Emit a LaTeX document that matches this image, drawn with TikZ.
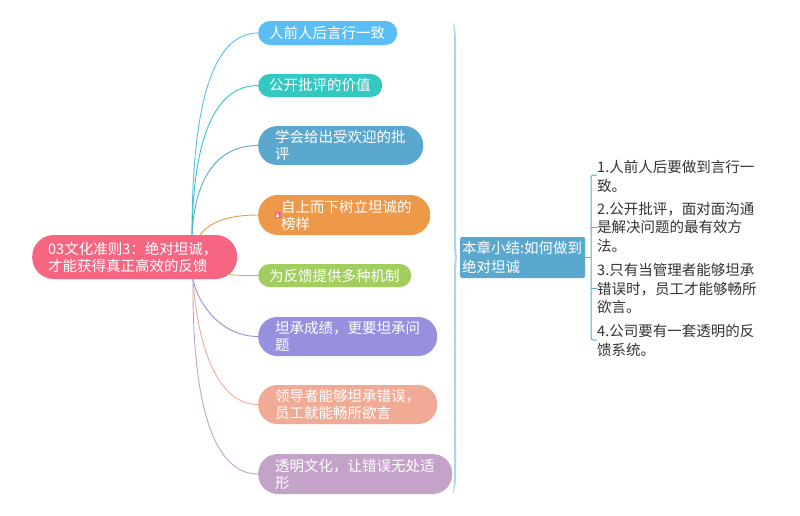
\documentclass[tikz,border=0pt]{standalone}
\usepackage{fontspec}
\setmainfont{Noto Sans CJK SC}
\definecolor{cRoot}{HTML}{F66682}
\definecolor{cA}{HTML}{5ABEF5}
\definecolor{cB}{HTML}{33C9C2}
\definecolor{cC}{HTML}{5BA8CF}
\definecolor{cD}{HTML}{EE9849}
\definecolor{cE}{HTML}{A1CE5F}
\definecolor{cF}{HTML}{9690DE}
\definecolor{cG}{HTML}{F0AA95}
\definecolor{cH}{HTML}{C3A3C8}
\definecolor{cBrace}{HTML}{A9D4EA}
\definecolor{cTxt}{HTML}{333333}
\tikzset{
  x=1pt,y=-1pt,
  pill/.style n args={4}{anchor=west,fill=#4,text=white,inner ysep=0pt,inner xsep=#3,
    minimum width=#1,minimum height=#2,text width=#1-2*#3,align=left,
    rounded corners=0.49*#2,
    font=\fontsize{14.5}{17}\selectfont},
  link/.style={line width=0.9pt},
  note/.style={anchor=north west,inner sep=0pt,text=cTxt,text width=165pt,align=left,
    font=\fontsize{14.5}{18.6}\selectfont},
  bracket/.style={draw=cC,line width=1pt}
}
\begin{document}
\begin{tikzpicture}
\useasboundingbox (0,0) rectangle (800,515);
\fill[white] (0,0) rectangle (800,515);
\node[pill={139pt}{24pt}{11pt}{cA}] (n1) at (258,33) {人前人后言行一致};
\node[pill={124pt}{23pt}{11pt}{cB}] (n2) at (258,85.5) {公开批评的价值};
\node[pill={165pt}{39pt}{17pt}{cC}] (n3) at (258,145.5) {学会给出受欢迎的批\\评};
\node[pill={172pt}{40pt}{23pt}{cD}] (n4) at (258,215) {自上而下树立坦诚的\\榜样};
\node[pill={153pt}{23pt}{11pt}{cE}] (n5) at (258,275.5) {为反馈提供多种机制};
\node[pill={179pt}{39pt}{17pt}{cF}] (n6) at (258,336.5) {坦承成绩，更要坦承问\\题};
\node[pill={179pt}{39pt}{17pt}{cG}] (n7) at (258,404.5) {领导者能够坦承错误，\\员工就能畅所欲言};
\node[pill={194pt}{40pt}{17pt}{cH}] (n8) at (258,474) {透明文化，让错误无处适\\形};
\node[pill={205pt}{44pt}{16pt}{cRoot}] (root) at (32,257) {03文化准则3：绝对坦诚，\\才能获得真正高效的反馈};
\node[pill={125pt}{41pt}{2pt}{cC},rounded corners=2pt,font=\fontsize{14.5}{18.5}\selectfont] (sum) at (460,257.5) {本章小结:如何做到\\绝对坦诚};
% links
\coordinate (ra) at ([xshift=160pt]root.north west);
\coordinate (rd) at ([xshift=168pt]root.north west);
\coordinate (re) at ([xshift=196pt,yshift=5pt]root.south west);
\coordinate (rb) at ([xshift=161pt]root.south west);
\draw[link,draw=cA] (ra) .. controls (192,130) and (205,33) .. (n1.west);
\draw[link,draw=cB] (ra) .. controls (193,150) and (210,85.5) .. (n2.west);
\draw[link,draw=cC] (ra) .. controls (194,190) and (210,145.5) .. (n3.west);
\draw[link,draw=cD] (rd) .. controls (210,222) and (228,215) .. (n4.west);
\draw[link,draw=cE] (re) .. controls (238,276) and (248,275.5) .. (n5.west);
\draw[link,draw=cF] (rb) .. controls (198,305) and (222,336.5) .. (n6.west);
\draw[link,draw=cG] (rb) .. controls (197,340) and (215,404.5) .. (n7.west);
\draw[link,draw=cH] (rb) .. controls (192,400) and (212,474) .. (n8.west);
% icon of n4
\fill[cRoot] (274.5,212) rectangle (280.5,218);
\fill[white] (276,217) rectangle (279,215.2);
\fill[white] (276.7,215.2) rectangle (278.3,213);
% large brace
\fill[cBrace] (452.8,21.5) .. controls (455.5,28) and (456.2,36) .. (456.2,50)
  -- (456.2,245) .. controls (456.2,250) and (456.5,254) .. (457,257.5)
  .. controls (456.5,261) and (456.2,265) .. (456.2,270)
  -- (456.2,470) .. controls (456.2,480) and (455.5,488) .. (453,494)
  .. controls (453.8,488) and (454,480) .. (454,470)
  -- (454,270) .. controls (454,265) and (454.5,261) .. (455.4,257.5)
  .. controls (454.5,254) and (454,250) .. (454,245)
  -- (454,50) .. controls (454,36) and (453.8,28) .. (452.8,21.5) -- cycle;
% notes
\node[note] (t1) at (597,160) {1.人前人后要做到言行一\\致。};
\node[note] (t2) at (597,202) {2.公开批评，面对面沟通\\是解决问题的最有效方\\法。};
\node[note] (t3) at (597,263) {3.只有当管理者能够坦承\\错误时，员工才能够畅所\\欲言。};
\node[note] (t4) at (597,324) {4.公司要有一套透明的反\\馈系统。};
% list bracket
\coordinate (bt) at (591,175);
\coordinate (bb) at (591,340);
\coordinate (bm) at (591,257.5);
\draw[bracket,rounded corners=2.5pt] (t1.west |- bt) -- (bt) -- (bb) -- (t4.west |- bb);
\draw[bracket] (sum.east) -- (bm);
\draw[bracket] (591,227) -- (t2.west |- 0,227);
\draw[bracket] (591,288) -- (t3.west |- 0,288);
\end{tikzpicture}
\end{document}
